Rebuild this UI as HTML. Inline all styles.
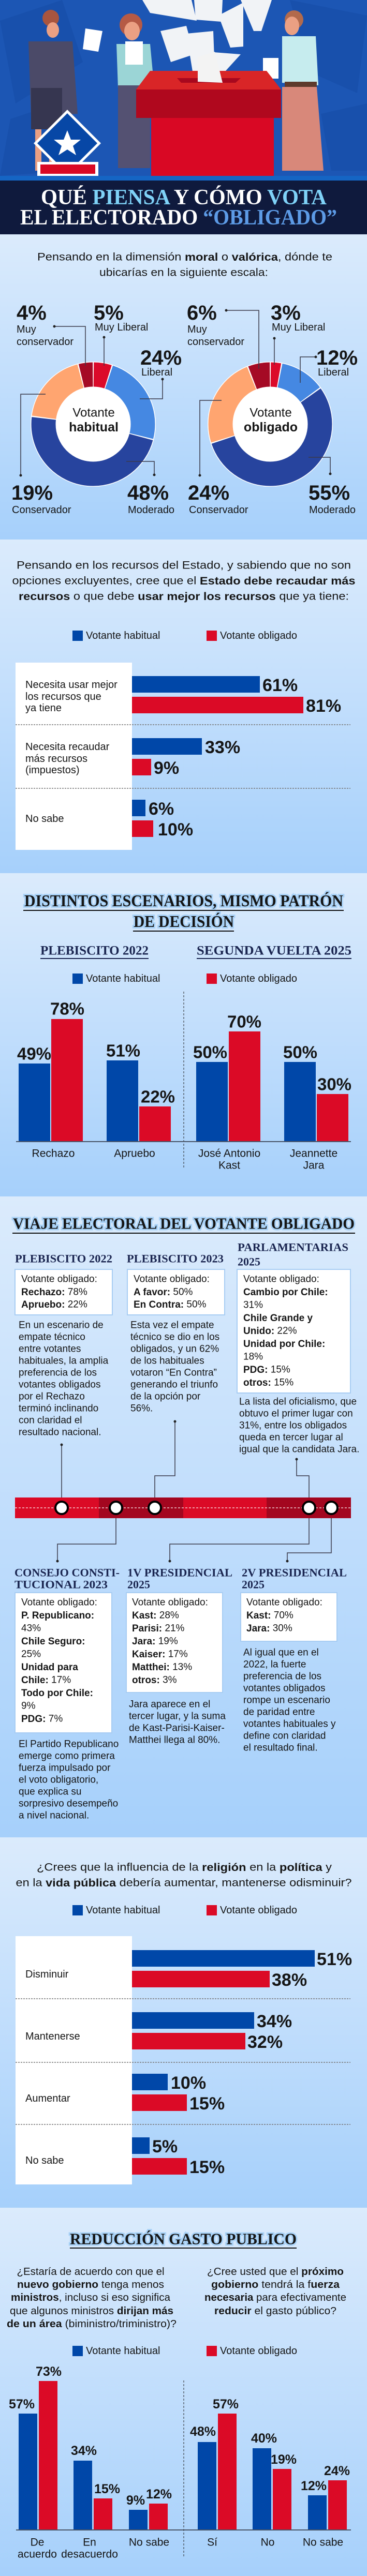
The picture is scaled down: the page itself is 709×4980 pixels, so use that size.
<!DOCTYPE html>
<html><head><meta charset="utf-8">
<style>
html,body{margin:0;padding:0;background:#a9d3fd}
svg{display:block}
text{dominant-baseline:central;font-family:"Liberation Sans",sans-serif;fill:#151515}
.n{font-weight:bold;font-family:"Liberation Sans",sans-serif}
.h{font-family:"Liberation Serif",serif;font-weight:bold}
.bx{font-size:19px}
.bx tspan.k{font-weight:bold}
</style></head><body>
<svg width="709" height="4980" viewBox="0 0 709 4980" xmlns="http://www.w3.org/2000/svg">
<defs>
<linearGradient id="sg" x1="0" y1="0" x2="0" y2="1">
<stop offset="0" stop-color="#dbebfc"/><stop offset="1" stop-color="#a6d0fb"/></linearGradient>
</defs>

<!-- HERO -->
<rect x="0" y="0" width="709" height="340" fill="#1c56b4"/>
<g opacity="0.25" fill="#0d3f95">
<polygon points="0,40 120,0 160,120 30,200"/><polygon points="560,0 709,30 690,180 600,140"/>
<polygon points="20,230 110,200 140,330 0,340"/><polygon points="620,220 709,200 709,330 640,330"/>
</g>
<g fill="#f1f3f6">
<polygon points="275,0 370,0 380,40 290,25"/><polygon points="375,0 430,0 428,42 378,38"/>
<polygon points="465,0 525,0 505,60 490,60"/><polygon points="310,60 360,50 375,105 330,120"/>
<polygon points="360,65 412,60 415,140 372,138"/><polygon points="422,30 470,5 470,90 445,92"/>
<polygon points="400,100 465,105 415,160 380,158"/>
</g>
<circle cx="98" cy="35" r="16" fill="#a8553f"/><ellipse cx="102" cy="58" rx="12" ry="15" fill="#eba083"/>
<polygon points="55,80 140,80 150,220 60,225" fill="#4b4a68"/>
<rect x="60" y="170" width="60" height="80" fill="#363650"/>
<rect x="68" y="250" width="12" height="80" fill="#eba083"/><rect x="95" y="250" width="12" height="80" fill="#eba083"/>
<polygon points="165,55 198,60 190,100 160,95" fill="#fff"/>
<ellipse cx="253" cy="48" rx="22" ry="22" fill="#b55a45"/><ellipse cx="255" cy="60" rx="15" ry="18" fill="#eba083"/>
<polygon points="225,85 290,85 298,170 228,170" fill="#9bd5d6"/>
<rect x="242" y="80" width="34" height="45" fill="#fff"/>
<rect x="228" y="165" width="62" height="160" fill="#545172"/>
<ellipse cx="568" cy="38" rx="18" ry="18" fill="#b26a4c"/><ellipse cx="564" cy="50" rx="14" ry="18" fill="#eba083"/>
<polygon points="545,70 610,70 615,165 545,160" fill="#c6ecee"/>
<rect x="508" y="112" width="30" height="40" fill="#fff"/>
<rect x="550" y="158" width="62" height="10" fill="#5e3a2c"/>
<polygon points="545,168 612,168 625,330 545,330" fill="#d8887a"/>
<polygon points="290,137 515,137 543,173 263,173" fill="#d92527"/>
<polygon points="342,151 465,151 455,160 350,160" fill="#a8081e"/>
<polygon points="382,110 415,100 430,160 382,158" fill="#f3f3f3"/>
<rect x="263" y="173" width="280" height="55" fill="#b0081e"/>
<rect x="292" y="228" width="237" height="112" fill="#d90824"/>
<polygon points="130,212 195,277 130,342 65,277" fill="#fff"/>
<polygon points="130,219 188,277 130,335 72,277" fill="#0747a6"/>
<polygon points="130,252 137,270 156,270 141,282 147,300 130,289 113,300 119,282 104,270 123,270" fill="#fff"/>
<rect x="72" y="313" width="118" height="27" fill="#fff"/><rect x="78" y="318" width="106" height="18" fill="#d90824"/>

<rect x="0" y="340" width="709" height="10" fill="#1565c4"/>
<rect x="0" y="349" width="709" height="104" fill="#0f1a3d"/>
<text class="h" x="355" y="382" text-anchor="middle" font-size="42" textLength="552" lengthAdjust="spacingAndGlyphs" style="fill:#fff">QUÉ <tspan style="fill:#7fd2f7">PIENSA</tspan> Y CÓMO <tspan style="fill:#7fd2f7">VOTA</tspan></text>
<text class="h" x="345" y="421" text-anchor="middle" font-size="42" textLength="612" lengthAdjust="spacingAndGlyphs" style="fill:#fff">EL ELECTORADO <tspan style="fill:#5d9be6">“OBLIGADO”</tspan></text>

<rect x="0" y="453" width="709" height="590" fill="url(#sg)"/>
<rect x="0" y="1043" width="709" height="645" fill="url(#sg)"/>
<rect x="0" y="1688" width="709" height="625" fill="url(#sg)"/>
<rect x="0" y="2313" width="709" height="1239" fill="url(#sg)"/>
<rect x="0" y="3552" width="709" height="716" fill="url(#sg)"/>
<rect x="0" y="4268" width="709" height="712" fill="url(#sg)"/>

<!-- SECTION 1 -->
<text x="357" y="497" text-anchor="middle" font-size="21" textLength="570" lengthAdjust="spacingAndGlyphs">Pensando en la dimensión <tspan font-weight="bold">moral</tspan> o <tspan font-weight="bold">valórica</tspan>, dónde te</text>
<text x="355" y="527" text-anchor="middle" font-size="21" textLength="326" lengthAdjust="spacingAndGlyphs">ubicarías en la siguiente escala:</text>

<circle cx="180" cy="820" r="121" fill="#fff"/>
<g transform="rotate(-90 180 820)" fill="none" stroke-width="47">
<circle cx="180" cy="820" r="96" stroke="#db0a2a" stroke-dasharray="28.2 603.2" stroke-dashoffset="-1"/>
<circle cx="180" cy="820" r="96" stroke="#4588e2" stroke-dasharray="142.8 603.2" stroke-dashoffset="-31.2"/>
<circle cx="180" cy="820" r="96" stroke="#27449e" stroke-dasharray="287.5 603.2" stroke-dashoffset="-175.9"/>
<circle cx="180" cy="820" r="96" stroke="#ffa570" stroke-dasharray="112.6 603.2" stroke-dashoffset="-465.5"/>
<circle cx="180" cy="820" r="96" stroke="#a50a25" stroke-dasharray="22.1 603.2" stroke-dashoffset="-580.1"/>
</g>
<circle cx="180" cy="820" r="72" fill="#fff"/>
<text x="181" y="798" text-anchor="middle" font-size="24">Votante</text>
<text x="181" y="826" text-anchor="middle" font-size="25" font-weight="bold">habitual</text>

<circle cx="522" cy="820" r="121" fill="#fff"/>
<g transform="rotate(-90 522 820)" fill="none" stroke-width="47">
<circle cx="522" cy="820" r="96" stroke="#db0a2a" stroke-dasharray="16.1 603.2" stroke-dashoffset="-1"/>
<circle cx="522" cy="820" r="96" stroke="#4588e2" stroke-dasharray="70.4 603.2" stroke-dashoffset="-19.1"/>
<circle cx="522" cy="820" r="96" stroke="#27449e" stroke-dasharray="329.7 603.2" stroke-dashoffset="-91.5"/>
<circle cx="522" cy="820" r="96" stroke="#ffa570" stroke-dasharray="142.8 603.2" stroke-dashoffset="-423.2"/>
<circle cx="522" cy="820" r="96" stroke="#a50a25" stroke-dasharray="34.2 603.2" stroke-dashoffset="-568"/>
</g>
<circle cx="522" cy="820" r="72" fill="#fff"/>
<text x="523" y="798" text-anchor="middle" font-size="24">Votante</text>
<text x="523" y="826" text-anchor="middle" font-size="25" font-weight="bold">obligado</text>

<g fill="none" stroke="#3a3a4a" stroke-width="1.5">
<polyline points="105,631 165,631 165,707"/><polyline points="201,652 201,707"/>
<polyline points="314,733 314,771 270,771"/><polyline points="88,762 40,762 40,919"/>
<polyline points="244,892 298,892 298,918"/>
<polyline points="437,600 500,600 500,713"/><polyline points="530,654 530,705"/>
<polyline points="610,690 580,690 580,740"/><polyline points="428,774 386,774 386,919"/>
<polyline points="596,884 638,884 638,916"/>
</g>
<g fill="#222"><circle cx="105" cy="631" r="2.5"/><circle cx="201" cy="652" r="2.5"/><circle cx="314" cy="733" r="2.5"/><circle cx="40" cy="919" r="2.5"/><circle cx="298" cy="918" r="2.5"/><circle cx="437" cy="600" r="2.5"/><circle cx="530" cy="654" r="2.5"/><circle cx="610" cy="690" r="2.5"/><circle cx="386" cy="919" r="2.5"/><circle cx="638" cy="916" r="2.5"/></g>

<g font-size="40">
<text x="32" y="605" class="n">4%</text><text x="181" y="605" class="n">5%</text>
<text x="271" y="692" class="n">24%</text><text x="361" y="605" class="n">6%</text>
<text x="523" y="605" class="n">3%</text><text x="611" y="692" class="n">12%</text>
<text x="22" y="953" class="n">19%</text><text x="246" y="953" class="n">48%</text>
<text x="363" y="953" class="n">24%</text><text x="596" y="953" class="n">55%</text>
</g>
<g font-size="20">
<text x="32" y="637">Muy</text><text x="32" y="661">conservador</text>
<text x="183" y="633">Muy Liberal</text><text x="273" y="720">Liberal</text>
<text x="362" y="637">Muy</text><text x="362" y="661">conservador</text>
<text x="525" y="633">Muy Liberal</text><text x="614" y="720">Liberal</text>
<text x="23" y="986">Conservador</text><text x="247" y="986">Moderado</text>
<text x="365" y="986">Conservador</text><text x="597" y="986">Moderado</text>
</g>

<!-- SECTION 2 -->
<text x="355" y="1093" text-anchor="middle" font-size="21" textLength="646" lengthAdjust="spacingAndGlyphs">Pensando en los recursos del Estado, y sabiendo que no son</text>
<text x="355" y="1123" text-anchor="middle" font-size="21" textLength="663" lengthAdjust="spacingAndGlyphs">opciones excluyentes, cree que el <tspan font-weight="bold">Estado debe recaudar más</tspan></text>
<text x="355" y="1153" text-anchor="middle" font-size="21" textLength="638" lengthAdjust="spacingAndGlyphs"><tspan font-weight="bold">recursos</tspan> o que debe <tspan font-weight="bold">usar mejor los recursos</tspan> que ya tiene:</text>

<g id="leg">
<rect x="140" y="1219" width="20" height="20" fill="#0047a8"/><text x="166" y="1229" font-size="20">Votante habitual</text>
<rect x="399" y="1219" width="20" height="20" fill="#db0a26"/><text x="425" y="1229" font-size="20">Votante obligado</text>
</g>

<rect x="30" y="1281" width="225" height="362" fill="#fff"/>
<g stroke="#777" stroke-width="1.5" stroke-dasharray="3 2"><line x1="30" y1="1401" x2="677" y2="1401"/><line x1="30" y1="1524" x2="677" y2="1524"/></g>
<g fill="#0047a8"><rect x="255" y="1307" width="247" height="32"/><rect x="255" y="1427" width="135" height="32"/><rect x="255" y="1546" width="26" height="32"/></g>
<g fill="#db0a26"><rect x="255" y="1347" width="331" height="32"/><rect x="255" y="1467" width="37" height="32"/><rect x="255" y="1586" width="41" height="32"/></g>
<g font-size="34">
<text class="n" x="507" y="1325">61%</text><text class="n" x="591" y="1365">81%</text>
<text class="n" x="396" y="1445">33%</text><text class="n" x="297" y="1485">9%</text>
<text class="n" x="287" y="1564">6%</text><text class="n" x="305" y="1604">10%</text>
</g>
<g font-size="20">
<text x="49" y="1324">Necesita usar mejor</text><text x="49" y="1347">los recursos que</text><text x="49" y="1369">ya tiene</text>
<text x="49" y="1444">Necesita recaudar</text><text x="49" y="1467">más recursos</text><text x="49" y="1489">(impuestos)</text>
<text x="49" y="1583">No sabe</text>
</g>

<!-- SECTION 3 -->
<text x="355" y="1741" text-anchor="middle" font-size="32" class="h" stroke="#a9d2f7" stroke-width="6" textLength="616" lengthAdjust="spacingAndGlyphs">DISTINTOS ESCENARIOS, MISMO PATRÓN</text>
<text x="355" y="1741" text-anchor="middle" font-size="32" class="h" textLength="616" lengthAdjust="spacingAndGlyphs">DISTINTOS ESCENARIOS, MISMO PATRÓN</text>
<text x="355" y="1781" text-anchor="middle" font-size="32" class="h" stroke="#a9d2f7" stroke-width="6" textLength="194" lengthAdjust="spacingAndGlyphs">DE DECISIÓN</text>
<text x="355" y="1781" text-anchor="middle" font-size="32" class="h" textLength="194" lengthAdjust="spacingAndGlyphs">DE DECISIÓN</text>
<line x1="45" y1="1760" x2="664" y2="1760" stroke="#111" stroke-width="2"/>
<line x1="257" y1="1800" x2="452" y2="1800" stroke="#111" stroke-width="2"/>
<text class="h" x="78" y="1838" font-size="25" style="fill:#1a2550" textLength="209" lengthAdjust="spacingAndGlyphs">PLEBISCITO 2022</text>
<line x1="78" y1="1853" x2="287" y2="1853" stroke="#1a2550" stroke-width="2"/>
<text class="h" x="380" y="1838" font-size="25" style="fill:#1a2550" textLength="299" lengthAdjust="spacingAndGlyphs">SEGUNDA VUELTA 2025</text>
<line x1="380" y1="1853" x2="679" y2="1853" stroke="#1a2550" stroke-width="2"/>
<use href="#leg" transform="translate(0,663)"/>

<line x1="355" y1="1917" x2="355" y2="2260" stroke="#222" stroke-width="1" stroke-dasharray="4 3"/>
<g fill="#0047a8"><rect x="36" y="2056" width="61" height="151"/><rect x="206" y="2050" width="61" height="157"/><rect x="379" y="2053" width="61" height="154"/><rect x="549" y="2053" width="61" height="154"/></g>
<g fill="#db0a26"><rect x="99" y="1970" width="61" height="237"/><rect x="269" y="2139" width="61" height="68"/><rect x="442" y="1994" width="61" height="213"/><rect x="612" y="2115" width="61" height="92"/></g>
<line x1="31" y1="2207" x2="678" y2="2207" stroke="#4a5568" stroke-width="2"/>
<g font-size="33" text-anchor="middle">
<text class="n" x="66" y="2037">49%</text><text class="n" x="130" y="1950">78%</text>
<text class="n" x="238" y="2031">51%</text><text class="n" x="305" y="2120">22%</text>
<text class="n" x="406" y="2034">50%</text><text class="n" x="472" y="1975">70%</text>
<text class="n" x="580" y="2034">50%</text><text class="n" x="646" y="2096">30%</text>
</g>
<g font-size="21" text-anchor="middle">
<text x="103" y="2230">Rechazo</text><text x="260" y="2230">Apruebo</text>
<text x="443" y="2230">José Antonio</text><text x="443" y="2253">Kast</text>
<text x="606" y="2230">Jeannette</text><text x="606" y="2253">Jara</text>
</g>

<!-- SECTION 4 -->
<text x="355" y="2365" text-anchor="middle" font-size="31" class="h" stroke="#a9d2f7" stroke-width="6" textLength="660" lengthAdjust="spacingAndGlyphs">VIAJE ELECTORAL DEL VOTANTE OBLIGADO</text>
<text x="355" y="2365" text-anchor="middle" font-size="31" class="h" textLength="660" lengthAdjust="spacingAndGlyphs">VIAJE ELECTORAL DEL VOTANTE OBLIGADO</text>
<line x1="24" y1="2384" x2="686" y2="2384" stroke="#111" stroke-width="2"/>

<text class="h" x="29" y="2433" font-size="22" style="fill:#1a2550" textLength="188" lengthAdjust="spacingAndGlyphs">PLEBISCITO 2022</text>
<text class="h" x="245" y="2433" font-size="22" style="fill:#1a2550" textLength="187" lengthAdjust="spacingAndGlyphs">PLEBISCITO 2023</text>
<text class="h" x="459" y="2411" font-size="22" style="fill:#1a2550" textLength="214" lengthAdjust="spacingAndGlyphs">PARLAMENTARIAS</text>
<text class="h" x="459" y="2439" font-size="22" style="fill:#1a2550">2025</text>

<g fill="#fff" stroke="#a8cdf3" stroke-width="2">
<rect x="29" y="2454" width="188" height="88"/><rect x="246" y="2454" width="188" height="88"/><rect x="458" y="2454" width="219" height="239"/>
</g>
<g class="bx">
<text x="41" y="2473">Votante obligado:</text><text x="41" y="2498"><tspan class="k">Rechazo:</tspan> 78%</text><text x="41" y="2522"><tspan class="k">Apruebo:</tspan> 22%</text>
<text x="258" y="2473">Votante obligado:</text><text x="258" y="2498"><tspan class="k">A favor:</tspan> 50%</text><text x="258" y="2522"><tspan class="k">En Contra:</tspan> 50%</text>
<text x="470" y="2473">Votante obligado:</text><text x="470" y="2498"><tspan class="k">Cambio por Chile:</tspan></text><text x="470" y="2523">31%</text>
<text x="470" y="2548"><tspan class="k">Chile Grande y</tspan></text><text x="470" y="2573"><tspan class="k">Unido:</tspan> 22%</text>
<text x="470" y="2598"><tspan class="k">Unidad por Chile:</tspan></text><text x="470" y="2623">18%</text>
<text x="470" y="2648"><tspan class="k">PDG:</tspan> 15%</text><text x="470" y="2673"><tspan class="k">otros:</tspan> 15%</text>
</g>

<g class="bx">
<text x="36" y="2562">En un escenario de</text><text x="36" y="2585">empate técnico</text><text x="36" y="2608">entre votantes</text><text x="36" y="2631">habituales, la amplia</text><text x="36" y="2654">preferencia de los</text><text x="36" y="2677">votantes obligados</text><text x="36" y="2700">por el Rechazo</text><text x="36" y="2723">terminó inclinando</text><text x="36" y="2746">con claridad el</text><text x="36" y="2769">resultado nacional.</text>
<text x="252" y="2562">Esta vez el empate</text><text x="252" y="2585">técnico se dio en los</text><text x="252" y="2608">obligados, y un 62%</text><text x="252" y="2631">de los habituales</text><text x="252" y="2654">votaron “En Contra”</text><text x="252" y="2677">generando el triunfo</text><text x="252" y="2700">de la opción por</text><text x="252" y="2723">56%.</text>
<text x="462" y="2710">La lista del oficialismo, que</text><text x="462" y="2733">obtuvo el primer lugar con</text><text x="462" y="2756">31%, entre los obligados</text><text x="462" y="2779">queda en tercer lugar al</text><text x="462" y="2802">igual que la candidata Jara.</text>
</g>

<g fill="none" stroke="#3a3a4a" stroke-width="1.5">
<polyline points="119,2793 119,2905"/><polyline points="338,2748 338,2853 299,2853 299,2905"/><polyline points="573,2821 573,2853 597,2853 597,2905"/>
<polyline points="224,2925 224,2985 111,2985 111,3018"/><polyline points="597,2925 597,2985 328,2985 328,3018"/><polyline points="640,2925 640,3002 555,3002 555,3018"/>
</g>
<g fill="#222"><circle cx="119" cy="2793" r="2.5"/><circle cx="338" cy="2748" r="2.5"/><circle cx="573" cy="2821" r="2.5"/><circle cx="111" cy="3018" r="2.5"/><circle cx="328" cy="3018" r="2.5"/><circle cx="555" cy="3018" r="2.5"/></g>
<rect x="29" y="2895" width="162" height="40" fill="#db0a26"/><rect x="191" y="2895" width="163" height="40" fill="#a3061f"/>
<rect x="354" y="2895" width="161" height="40" fill="#db0a26"/><rect x="515" y="2895" width="163" height="40" fill="#a3061f"/>
<line x1="29" y1="2915" x2="678" y2="2915" stroke="#fff" stroke-width="1.5" stroke-dasharray="4 3" opacity="0.8"/>
<g fill="#fff" stroke="#000" stroke-width="4">
<circle cx="119" cy="2915" r="12"/><circle cx="224" cy="2915" r="12"/><circle cx="299" cy="2915" r="12"/><circle cx="597" cy="2915" r="12"/><circle cx="640" cy="2915" r="12"/>
</g>

<text class="h" x="28" y="3040" font-size="22" style="fill:#1a2550" textLength="203" lengthAdjust="spacingAndGlyphs">CONSEJO CONSTI-</text>
<text class="h" x="28" y="3063" font-size="22" style="fill:#1a2550" textLength="180" lengthAdjust="spacingAndGlyphs">TUCIONAL 2023</text>
<text class="h" x="246" y="3040" font-size="22" style="fill:#1a2550" textLength="203" lengthAdjust="spacingAndGlyphs">1V PRESIDENCIAL</text>
<text class="h" x="246" y="3063" font-size="22" style="fill:#1a2550">2025</text>
<text class="h" x="467" y="3040" font-size="22" style="fill:#1a2550" textLength="203" lengthAdjust="spacingAndGlyphs">2V PRESIDENCIAL</text>
<text class="h" x="467" y="3063" font-size="22" style="fill:#1a2550">2025</text>

<g fill="#fff" stroke="#a8cdf3" stroke-width="2">
<rect x="29" y="3079" width="187" height="271"/><rect x="244" y="3079" width="186" height="193"/><rect x="465" y="3079" width="186" height="94"/>
</g>
<g class="bx">
<text x="41" y="3098">Votante obligado:</text><text x="41" y="3123"><tspan class="k">P. Republicano:</tspan></text><text x="41" y="3148">43%</text><text x="41" y="3173"><tspan class="k">Chile Seguro:</tspan></text><text x="41" y="3198">25%</text><text x="41" y="3223"><tspan class="k">Unidad para</tspan></text><text x="41" y="3248"><tspan class="k">Chile:</tspan> 17%</text><text x="41" y="3273"><tspan class="k">Todo por Chile:</tspan></text><text x="41" y="3298">9%</text><text x="41" y="3323"><tspan class="k">PDG:</tspan> 7%</text>
<text x="255" y="3098">Votante obligado:</text><text x="255" y="3123"><tspan class="k">Kast:</tspan> 28%</text><text x="255" y="3148"><tspan class="k">Parisi:</tspan> 21%</text><text x="255" y="3173"><tspan class="k">Jara:</tspan> 19%</text><text x="255" y="3198"><tspan class="k">Kaiser:</tspan> 17%</text><text x="255" y="3223"><tspan class="k">Matthei:</tspan> 13%</text><text x="255" y="3248"><tspan class="k">otros:</tspan> 3%</text>
<text x="476" y="3098">Votante obligado:</text><text x="476" y="3123"><tspan class="k">Kast:</tspan> 70%</text><text x="476" y="3148"><tspan class="k">Jara:</tspan> 30%</text>
<text x="249" y="3295">Jara aparece en el</text><text x="249" y="3318">tercer lugar, y la suma</text><text x="249" y="3341">de Kast-Parisi-Kaiser-</text><text x="249" y="3364">Matthei llega al 80%.</text>
<text x="470" y="3195">Al igual que en el</text><text x="470" y="3218">2022, la fuerte</text><text x="470" y="3241">preferencia de los</text><text x="470" y="3264">votantes obligados</text><text x="470" y="3287">rompe un escenario</text><text x="470" y="3310">de paridad entre</text><text x="470" y="3333">votantes habituales y</text><text x="470" y="3356">define con claridad</text><text x="470" y="3379">el resultado final.</text>
<text x="36" y="3372">El Partido Republicano</text><text x="36" y="3395">emerge como primera</text><text x="36" y="3418">fuerza impulsado por</text><text x="36" y="3441">el voto obligatorio,</text><text x="36" y="3464">que explica su</text><text x="36" y="3487">sorpresivo desempeño</text><text x="36" y="3510">a nivel nacional.</text>
</g>

<!-- SECTION 5 -->
<text x="356" y="3610" text-anchor="middle" font-size="21" textLength="570" lengthAdjust="spacingAndGlyphs">¿Crees que la influencia de la <tspan font-weight="bold">religión</tspan> en la <tspan font-weight="bold">política</tspan> y</text>
<text x="355" y="3640" text-anchor="middle" font-size="21" textLength="649" lengthAdjust="spacingAndGlyphs">en la <tspan font-weight="bold">vida pública</tspan> debería aumentar, mantenerse odisminuir?</text>
<use href="#leg" transform="translate(0,2464)"/>
<rect x="30" y="3743" width="225" height="480" fill="#fff"/>
<g stroke="#777" stroke-width="1.5" stroke-dasharray="3 2"><line x1="30" y1="3864" x2="677" y2="3864"/><line x1="30" y1="3987" x2="677" y2="3987"/><line x1="30" y1="4107" x2="677" y2="4107"/></g>
<g fill="#0047a8"><rect x="255" y="3770" width="353" height="32"/><rect x="255" y="3890" width="236" height="32"/><rect x="255" y="4009" width="69" height="32"/><rect x="255" y="4132" width="34" height="32"/></g>
<g fill="#db0a26"><rect x="255" y="3810" width="266" height="32"/><rect x="255" y="3930" width="219" height="32"/><rect x="255" y="4049" width="106" height="32"/><rect x="255" y="4172" width="106" height="32"/></g>
<g font-size="34">
<text class="n" x="612" y="3788">51%</text><text class="n" x="525" y="3828">38%</text>
<text class="n" x="496" y="3908">34%</text><text class="n" x="478" y="3948">32%</text>
<text class="n" x="330" y="4027">10%</text><text class="n" x="366" y="4067">15%</text>
<text class="n" x="294" y="4150">5%</text><text class="n" x="366" y="4190">15%</text>
</g>
<g font-size="20">
<text x="49" y="3817">Disminuir</text><text x="49" y="3937">Mantenerse</text><text x="49" y="4057">Aumentar</text><text x="49" y="4177">No sabe</text>
</g>

<!-- SECTION 6 -->
<text x="354" y="4328" text-anchor="middle" font-size="31" class="h" stroke="#a9d2f7" stroke-width="6" textLength="438" lengthAdjust="spacingAndGlyphs">REDUCCIÓN GASTO PUBLICO</text>
<text x="354" y="4328" text-anchor="middle" font-size="31" class="h" textLength="438" lengthAdjust="spacingAndGlyphs">REDUCCIÓN GASTO PUBLICO</text>
<line x1="135" y1="4346" x2="573" y2="4346" stroke="#111" stroke-width="2"/>
<g font-size="20" text-anchor="middle">
<text x="175" y="4392" textLength="285" lengthAdjust="spacingAndGlyphs">¿Estaría de acuerdo con que el</text>
<text x="175" y="4417" textLength="284" lengthAdjust="spacingAndGlyphs"><tspan font-weight="bold">nuevo gobierno</tspan> tenga menos</text>
<text x="175" y="4442" textLength="308" lengthAdjust="spacingAndGlyphs"><tspan font-weight="bold">ministros</tspan>, incluso si eso significa</text>
<text x="177" y="4468" textLength="316" lengthAdjust="spacingAndGlyphs">que algunos ministros <tspan font-weight="bold">dirijan más</tspan></text>
<text x="177" y="4493" textLength="328" lengthAdjust="spacingAndGlyphs"><tspan font-weight="bold">de un área</tspan> (biministro/triministro)?</text>
<text x="532" y="4392" textLength="264" lengthAdjust="spacingAndGlyphs">¿Cree usted que el <tspan font-weight="bold">próximo</tspan></text>
<text x="532" y="4417" textLength="248" lengthAdjust="spacingAndGlyphs"><tspan font-weight="bold">gobierno</tspan> tendrá la f<tspan font-weight="bold">uerza</tspan></text>
<text x="532" y="4442" textLength="274" lengthAdjust="spacingAndGlyphs"><tspan font-weight="bold">necesaria</tspan> para efectivamente</text>
<text x="532" y="4468" textLength="236" lengthAdjust="spacingAndGlyphs"><tspan font-weight="bold">reducir</tspan> el gasto público?</text>
</g>
<use href="#leg" transform="translate(0,3316)"/>
<line x1="355" y1="4602" x2="355" y2="4945" stroke="#222" stroke-width="1" stroke-dasharray="4 3"/>
<g fill="#0047a8"><rect x="36" y="4666" width="36" height="225"/><rect x="142" y="4757" width="36" height="134"/><rect x="249" y="4852" width="36" height="39"/><rect x="382" y="4721" width="36" height="170"/><rect x="488" y="4733" width="36" height="158"/><rect x="595" y="4824" width="36" height="67"/></g>
<g fill="#db0a26"><rect x="75" y="4603" width="36" height="288"/><rect x="181" y="4830" width="36" height="61"/><rect x="288" y="4840" width="36" height="51"/><rect x="421" y="4666" width="36" height="225"/><rect x="527" y="4773" width="36" height="118"/><rect x="634" y="4795" width="36" height="96"/></g>
<line x1="31" y1="4891" x2="678" y2="4891" stroke="#4a5568" stroke-width="2"/>
<g font-size="25" text-anchor="middle">
<text class="n" x="42" y="4648">57%</text><text class="n" x="94" y="4585">73%</text>
<text class="n" x="162" y="4738">34%</text><text class="n" x="207" y="4812">15%</text>
<text class="n" x="262" y="4834">9%</text><text class="n" x="307" y="4822">12%</text>
<text class="n" x="392" y="4701">48%</text><text class="n" x="436" y="4648">57%</text>
<text class="n" x="510" y="4714">40%</text><text class="n" x="548" y="4755">19%</text>
<text class="n" x="606" y="4806">12%</text><text class="n" x="651" y="4777">24%</text>
</g>
<g font-size="21" text-anchor="middle">
<text x="72" y="4915">De</text><text x="72" y="4938">acuerdo</text>
<text x="173" y="4915">En</text><text x="173" y="4938">desacuerdo</text>
<text x="288" y="4915">No sabe</text><text x="410" y="4915">Sí</text>
<text x="517" y="4915">No</text><text x="624" y="4915">No sabe</text>
</g>
</svg>
</body></html>
